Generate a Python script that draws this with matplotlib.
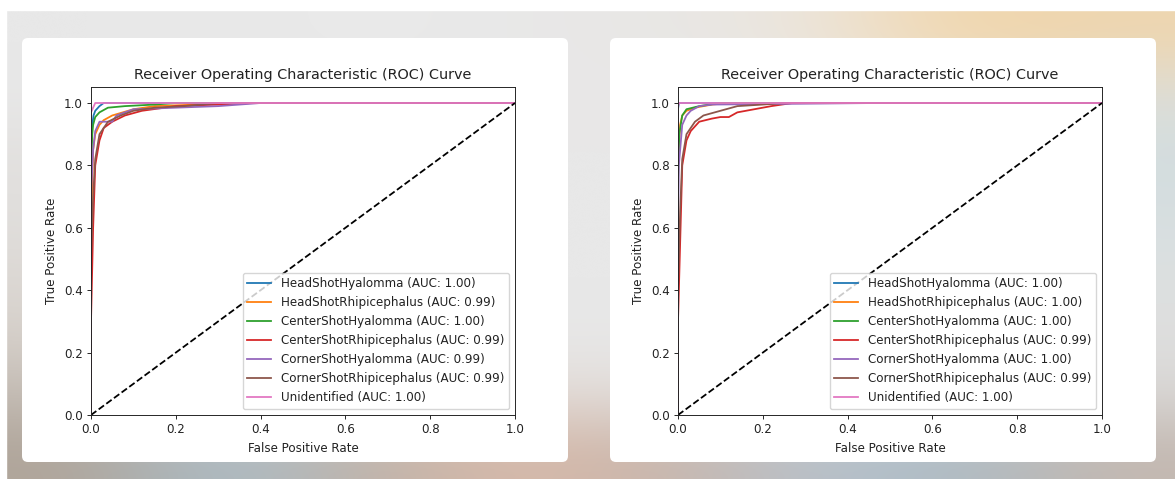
#!/usr/bin/env python3

import numpy as np
import matplotlib
matplotlib.use('Agg')
import matplotlib.pyplot as plt
from matplotlib.patches import FancyBboxPatch, Rectangle

# class names, same order in both charts
classes = ['HeadShotHyalomma', 'HeadShotRhipicephalus', 'CenterShotHyalomma',
           'CenterShotRhipicephalus', 'CornerShotHyalomma', 'CornerShotRhipicephalus',
           'Unidentified']
colors = ['#1f77b4', '#ff7f0e', '#2ca02c', '#d62728', '#9467bd', '#8c564b', '#e377c2']

# left chart: (fpr, tpr) per class
auc_left = [1.00, 0.99, 1.00, 0.99, 0.99, 0.99, 1.00]
fpr_left = [
    [0, 0, 0.003, 0.006, 0.01, 0.02, 0.03, 1],
    [0, 0, 0.005, 0.01, 0.02, 0.03, 0.05, 0.1, 0.15, 0.25, 0.3, 1],
    [0, 0, 0.003, 0.005, 0.01, 0.02, 0.04, 0.08, 0.15, 0.2, 1],
    [0, 0, 0.005, 0.01, 0.02, 0.03, 0.05, 0.08, 0.12, 0.2, 0.3, 0.38, 1],
    [0, 0, 0.005, 0.01, 0.02, 0.05, 0.06, 0.1, 0.2, 0.3, 0.4, 1],
    [0, 0, 0.005, 0.01, 0.02, 0.04, 0.07, 0.1, 0.15, 0.22, 0.3, 1],
    [0, 0, 0.01, 1],
]
tpr_left = [
    [0, 0.85, 0.93, 0.96, 0.975, 0.99, 1.0, 1.0],
    [0, 0.6, 0.85, 0.9, 0.93, 0.945, 0.96, 0.98, 0.99, 0.995, 1.0, 1.0],
    [0, 0.8, 0.9, 0.93, 0.955, 0.97, 0.985, 0.99, 0.995, 1.0, 1.0],
    [0, 0.3, 0.6, 0.8, 0.88, 0.92, 0.94, 0.96, 0.975, 0.99, 0.995, 1.0, 1.0],
    [0, 0.7, 0.85, 0.91, 0.94, 0.94, 0.96, 0.98, 0.985, 0.99, 1.0, 1.0],
    [0, 0.5, 0.7, 0.82, 0.9, 0.94, 0.96, 0.975, 0.985, 0.99, 1.0, 1.0],
    [0, 0.97, 1.0, 1.0],
]

# right chart
auc_right = [1.00, 1.00, 1.00, 0.99, 1.00, 0.99, 1.00]
fpr_right = [
    [0, 0, 0.002, 1],
    [0, 0, 0.005, 0.01, 0.02, 0.04, 0.08, 0.12, 1],
    [0, 0, 0.003, 0.01, 0.02, 0.05, 0.1, 1],
    [0, 0, 0.005, 0.01, 0.02, 0.03, 0.05, 0.08, 0.1, 0.12, 0.14, 0.18, 0.22, 0.27, 1],
    [0, 0, 0.002, 0.01, 0.02, 0.03, 0.05, 0.08, 0.47, 1],
    [0, 0, 0.005, 0.01, 0.02, 0.04, 0.06, 0.1, 0.14, 0.2, 0.25, 1],
    [0, 0, 0.003, 1],
]
tpr_right = [
    [0, 0.98, 1.0, 1.0],
    [0, 0.8, 0.93, 0.96, 0.975, 0.985, 0.995, 1.0, 1.0],
    [0, 0.75, 0.9, 0.96, 0.98, 0.99, 1.0, 1.0],
    [0, 0.3, 0.55, 0.8, 0.88, 0.91, 0.94, 0.95, 0.955, 0.955, 0.97, 0.98, 0.99, 1.0, 1.0],
    [0, 0.6, 0.8, 0.93, 0.96, 0.975, 0.99, 0.995, 1.0, 1.0],
    [0, 0.4, 0.65, 0.82, 0.9, 0.94, 0.96, 0.975, 0.99, 0.995, 1.0, 1.0],
    [0, 0.99, 1.0, 1.0],
]

ticks = [0.0, 0.2, 0.4, 0.6, 0.8, 1.0]

# the screenshot is a scaled down matplotlib figure
s = 0.86
plt.rcParams['font.family'] = ['DejaVu Sans']
plt.rcParams['font.size'] = 10 * s
plt.rcParams['axes.titlesize'] = 12 * s
plt.rcParams['lines.linewidth'] = 1.5 * s
plt.rcParams['axes.linewidth'] = 0.8 * s
plt.rcParams['xtick.major.size'] = 3.5 * s
plt.rcParams['ytick.major.size'] = 3.5 * s
plt.rcParams['xtick.major.width'] = 0.8 * s
plt.rcParams['ytick.major.width'] = 0.8 * s
plt.rcParams['xtick.major.pad'] = 3.5 * s
plt.rcParams['ytick.major.pad'] = 3.5 * s
plt.rcParams['text.color'] = '#222222'
plt.rcParams['xtick.color'] = '#222222'
plt.rcParams['ytick.color'] = '#222222'
plt.rcParams['axes.labelcolor'] = '#222222'
plt.rcParams['axes.edgecolor'] = '#222222'


def draw_background(fig):
	# blurred desktop behind the two cards
	bg = fig.add_axes([0, 0, 1, 1], zorder=-10)
	grey = [232, 232, 232]
	grid = np.array([
		[grey, grey, [234, 234, 234], grey, [232, 231, 229], [236, 230, 222], [242, 214, 170], [238, 214, 176]],
		[grey, grey, grey, grey, grey, grey, [232, 226, 214], [220, 222, 218]],
		[[226, 224, 222], grey, grey, grey, grey, grey, [226, 228, 228], [210, 220, 222]],
		[[224, 222, 220], grey, grey, grey, grey, grey, [226, 228, 228], [214, 222, 224]],
		[[220, 216, 212], grey, grey, grey, grey, grey, [226, 228, 228], [220, 224, 224]],
		[[214, 208, 202], grey, grey, grey, grey, grey, [224, 226, 226], [222, 222, 222]],
		[[196, 188, 180], [220, 220, 222], [226, 222, 220], [228, 222, 218], [226, 222, 220], [222, 224, 226], [220, 224, 226], [218, 216, 214]],
		[[176, 164, 152], [168, 190, 204], [190, 176, 164], [218, 186, 170], [200, 180, 168], [184, 194, 204], [170, 186, 196], [196, 184, 176]],
	]) / 255.0
	bg.imshow(grid, aspect='auto', interpolation='bicubic', extent=[6, 1175, 0, 469])
	bg.add_patch(Rectangle((0, 469), 1175, 10, color='white'))
	bg.add_patch(Rectangle((0, 0), 6, 479, color='white'))
	for x0 in [22, 610]:
		bg.add_patch(FancyBboxPatch((x0, 17), 546, 424, boxstyle='round,pad=0,rounding_size=6',
		                            facecolor='white', edgecolor='none'))
	bg.set_xlim(0, 1175)
	bg.set_ylim(0, 479)
	bg.axis('off')


def plot_roc(ax, fprs, tprs, aucs):
	for name, c, f, t, a in zip(classes, colors, fprs, tprs, aucs):
		ax.plot(f, t, color=c, label='%s (AUC: %.2f)' % (name, a))
	ax.plot([0, 1], [0, 1], 'k--')
	ax.set_xlim(0.0, 1.0)
	ax.set_ylim(0.0, 1.05)
	ax.set_xticks(ticks)
	ax.set_yticks(ticks)
	ax.set_xlabel('False Positive Rate')
	ax.set_ylabel('True Positive Rate')
	ax.set_title('Receiver Operating Characteristic (ROC) Curve')
	ax.legend(loc='lower right')


if __name__ == '__main__':
	fig = plt.figure(figsize=(11.75, 4.79), dpi=100)
	draw_background(fig)

	ax1 = fig.add_axes([91 / 1175, 64 / 479, 424 / 1175, 327.6 / 479])
	plot_roc(ax1, fpr_left, tpr_left, auc_left)

	ax2 = fig.add_axes([678 / 1175, 64 / 479, 424 / 1175, 327.6 / 479])
	plot_roc(ax2, fpr_right, tpr_right, auc_right)

	fig.savefig('out.png', dpi=100)
